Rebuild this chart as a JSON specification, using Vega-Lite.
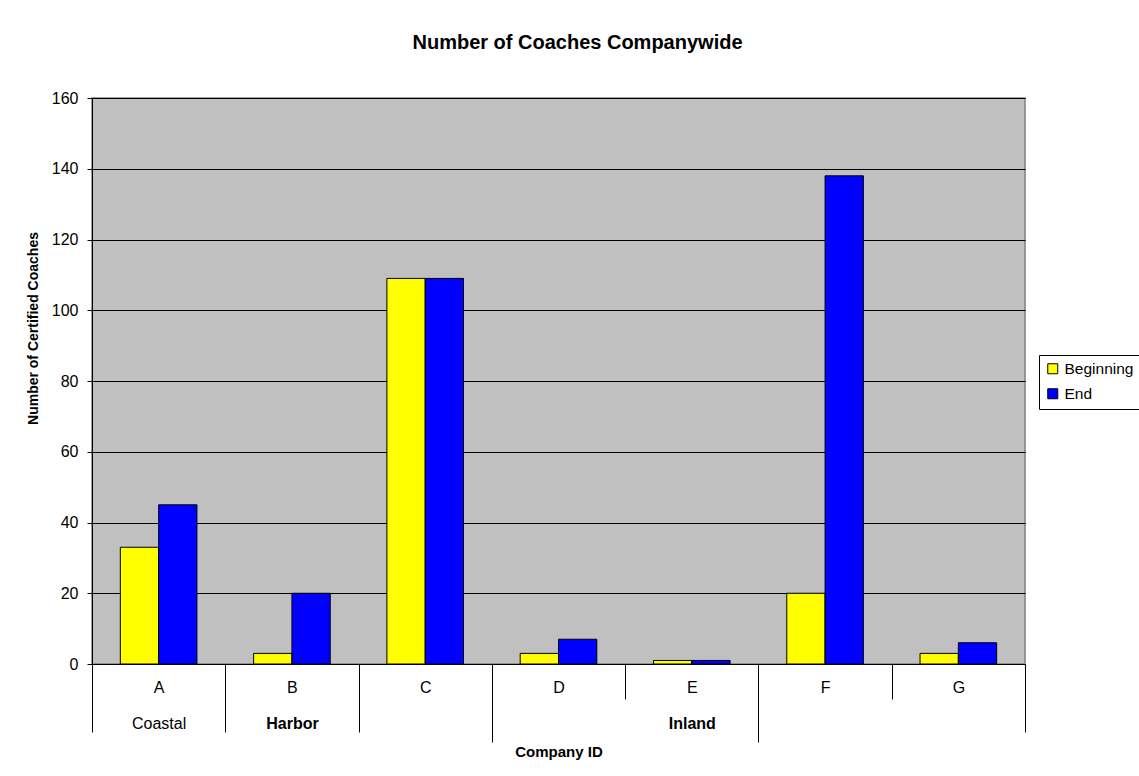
{
  "$schema": "https://vega.github.io/schema/vega-lite/v6.json",
  "autosize": "none",
  "width": 933,
  "height": 566,
  "padding": {"left": 92, "top": 98, "right": 114, "bottom": 112},
  "background": "white",
  "title": {
    "text": "Number of Coaches Companywide",
    "font": "Liberation Sans",
    "fontSize": 20,
    "fontWeight": "bold",
    "color": "black",
    "anchor": "middle",
    "dx": 19,
    "offset": 37
  },
  "data": {
    "values": [
      {"company": "A", "period": "Beginning", "count": 33},
      {"company": "A", "period": "End", "count": 45},
      {"company": "B", "period": "Beginning", "count": 3},
      {"company": "B", "period": "End", "count": 20},
      {"company": "C", "period": "Beginning", "count": 109},
      {"company": "C", "period": "End", "count": 109},
      {"company": "D", "period": "Beginning", "count": 3},
      {"company": "D", "period": "End", "count": 7},
      {"company": "E", "period": "Beginning", "count": 1},
      {"company": "E", "period": "End", "count": 1},
      {"company": "F", "period": "Beginning", "count": 20},
      {"company": "F", "period": "End", "count": 138},
      {"company": "G", "period": "Beginning", "count": 3},
      {"company": "G", "period": "End", "count": 6}
    ]
  },
  "layer": [
    {
      "mark": {"type": "bar", "stroke": "black", "strokeWidth": 1},
      "encoding": {
        "x": {
          "field": "company",
          "type": "nominal",
          "scale": {"paddingInner": 0, "paddingOuter": 0},
          "axis": {
            "orient": "bottom",
            "title": null,
            "labelAngle": 0,
            "labelFontSize": 16,
            "labelPadding": -20,
            "tickSize": 35,
            "tickBand": "extent",
            "tickColor": "black",
            "domainColor": "black",
            "grid": false
          }
        },
        "xOffset": {
          "field": "period",
          "type": "nominal",
          "scale": {"paddingInner": 0, "paddingOuter": 0.74}
        },
        "y": {
          "field": "count",
          "type": "quantitative",
          "scale": {"domain": [0, 160], "nice": false},
          "axis": {
            "title": "Number of Certified Coaches",
            "values": [0, 20, 40, 60, 80, 100, 120, 140, 160],
            "tickSize": 5,
            "tickColor": "black",
            "domainColor": "black",
            "grid": true,
            "gridColor": "black",
            "gridOpacity": 1,
            "labelFontSize": 16,
            "labelPadding": 9,
            "titleFontSize": 14,
            "titleFontWeight": "bold",
            "titleAngle": -90,
            "titleBaseline": "middle",
            "titleX": -59,
            "titleY": 230
          }
        },
        "fill": {
          "field": "period",
          "type": "nominal",
          "scale": {"domain": ["Beginning", "End"], "range": ["#FFFF00", "#0000FF"]},
          "legend": {
            "title": null,
            "orient": "none",
            "legendX": 947,
            "legendY": 257,
            "strokeColor": "black",
            "fillColor": "white",
            "padding": 6,
            "symbolType": "square",
            "symbolSize": 100,
            "symbolStrokeColor": "black",
            "symbolStrokeWidth": 1,
            "labelFontSize": 15.5,
            "labelOffset": 4,
            "rowPadding": 8
          }
        }
      }
    },
    {
      "mark": {"type": "point", "opacity": 0},
      "encoding": {
        "x": {
          "field": "company",
          "type": "nominal",
          "axis": {
            "orient": "bottom",
            "title": null,
            "domain": false,
            "grid": false,
            "labelAngle": 0,
            "labelFontSize": 16,
            "labelPadding": -17,
            "labelExpr": "datum.value === 'A' ? 'Coastal' : datum.value === 'B' ? 'Harbor' : datum.value === 'E' ? 'Inland' : ''",
            "labelFontWeight": {"condition": {"test": "datum.value === 'B' || datum.value === 'E'", "value": "bold"}, "value": "normal"},
            "tickSize": 68,
            "tickBand": "extent",
            "tickColor": "black",
            "tickOpacity": {"condition": {"test": "datum.value === 'D' || datum.value === 'F'", "value": 0}, "value": 1}
          }
        }
      }
    },
    {
      "mark": {"type": "point", "opacity": 0},
      "encoding": {
        "x": {
          "field": "company",
          "type": "nominal",
          "axis": {
            "orient": "bottom",
            "title": "Company ID",
            "titleFontSize": 15,
            "titleFontWeight": "bold",
            "titlePadding": 2,
            "domain": false,
            "grid": false,
            "labels": false,
            "tickSize": 78,
            "tickBand": "extent",
            "tickColor": "black",
            "tickOpacity": {"condition": {"test": "datum.value === 'C' || datum.value === 'E'", "value": 1}, "value": 0}
          }
        }
      }
    }
  ],
  "resolve": {"axis": {"x": "independent"}},
  "config": {
    "font": "Liberation Sans",
    "view": {"fill": "#C0C0C0", "stroke": "#808080", "strokeWidth": 1.5},
    "axis": {"labelColor": "black", "titleColor": "black", "labelFont": "Liberation Sans", "titleFont": "Liberation Sans"},
    "legend": {"labelColor": "black", "labelFont": "Liberation Sans"}
  }
}
